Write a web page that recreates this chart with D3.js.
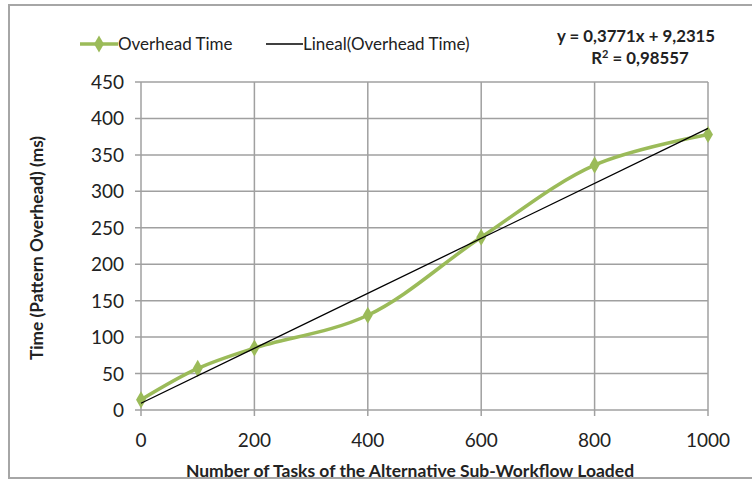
<!DOCTYPE html>
<html>
<head>
<meta charset="utf-8">
<script src="https://cdn.jsdelivr.net/npm/d3@7"></script>
<style>
  body { margin: 0; background: #fff; }
  text { font-family: Lato, "Liberation Sans", sans-serif; fill: #222; }
</style>
</head>
<body>
<svg id="chart" width="752" height="485"></svg>
<script>
// tasks loaded vs overhead time (ms)
var tasks = [0, 100, 200, 400, 600, 800, 1000];
var overhead = [14, 57, 85, 130, 237, 336, 378];
var xTicks = [0, 200, 400, 600, 800, 1000];
var yTicks = [0, 50, 100, 150, 200, 250, 300, 350, 400, 450];
// linear trend from the chart's own equation
var trendSlope = 0.3771;
var trendIntercept = 9.2315;
var trendR2 = "0,98557";

var svg = d3.select("#chart");
var green = "#9bbb59";

// chart frame
svg.append("rect")
    .attr("x", 9).attr("y", 5)
    .attr("width", 760).attr("height", 473)
    .attr("fill", "none")
    .attr("stroke", "#a6a6a6")
    .attr("stroke-width", 2);

var x = d3.scaleLinear().domain([0, 1000]).range([141, 708]);
var y = d3.scaleLinear().domain([0, 450]).range([410, 82]);

// grid
svg.append("g").selectAll("line.h").data(yTicks).enter().append("line")
    .attr("x1", 135).attr("x2", x(1000))
    .attr("y1", function(d) { return y(d); })
    .attr("y2", function(d) { return y(d); })
    .attr("stroke", "#a0a0a0").attr("stroke-width", 1.5);

svg.append("g").selectAll("line.v").data(xTicks).enter().append("line")
    .attr("x1", function(d) { return x(d); })
    .attr("x2", function(d) { return x(d); })
    .attr("y1", y(450)).attr("y2", y(0) + 6)
    .attr("stroke", "#a0a0a0").attr("stroke-width", 1.5);

// tick labels
svg.append("g").selectAll("text").data(yTicks).enter().append("text")
    .attr("x", 124)
    .attr("y", function(d) { return y(d) + 7; })
    .attr("text-anchor", "end")
    .style("font-size", "19px")
    .text(function(d) { return d; });

svg.append("g").selectAll("text").data(xTicks).enter().append("text")
    .attr("x", function(d) { return x(d); })
    .attr("y", 447)
    .attr("text-anchor", "middle")
    .style("font-size", "19px")
    .text(function(d) { return d; });

// axis titles
svg.append("text")
    .attr("x", 410).attr("y", 477)
    .attr("text-anchor", "middle")
    .style("font-size", "17.5px").style("font-weight", "bold")
    .text("Number of Tasks of the Alternative Sub-Workflow Loaded");

svg.append("text")
    .attr("transform", "translate(43,248) rotate(-90)")
    .attr("text-anchor", "middle")
    .style("font-size", "17.3px").style("font-weight", "bold")
    .text("Time (Pattern Overhead) (ms)");

// data line
var pts = tasks.map(function(t, i) { return [t, overhead[i]]; });
var line = d3.line()
    .x(function(d) { return x(d[0]); })
    .y(function(d) { return y(d[1]); })
    .curve(d3.curveCatmullRom.alpha(0.5));

svg.append("path")
    .datum(pts)
    .attr("d", line)
    .attr("fill", "none")
    .attr("stroke", green)
    .attr("stroke-width", 3.5)
    .attr("stroke-linejoin", "round");

var diamond = d3.symbol().type(d3.symbolDiamond).size(85);
svg.append("g").selectAll("path").data(pts).enter().append("path")
    .attr("d", diamond)
    .attr("transform", function(d) { return "translate(" + x(d[0]) + "," + y(d[1]) + ")"; })
    .attr("fill", green);

// trend line
svg.append("line")
    .attr("x1", x(0)).attr("y1", y(trendIntercept))
    .attr("x2", x(1000)).attr("y2", y(trendSlope * 1000 + trendIntercept))
    .attr("stroke", "#000").attr("stroke-width", 1.3);

// legend
var leg = svg.append("g");
leg.append("line")
    .attr("x1", 80).attr("x2", 118).attr("y1", 44).attr("y2", 44)
    .attr("stroke", green).attr("stroke-width", 3.5);
leg.append("path")
    .attr("d", diamond)
    .attr("transform", "translate(99,44)")
    .attr("fill", green);
leg.append("text")
    .attr("x", 118).attr("y", 50)
    .style("font-size", "17px")
    .text("Overhead Time");
leg.append("line")
    .attr("x1", 266).attr("x2", 303).attr("y1", 44).attr("y2", 44)
    .attr("stroke", "#000").attr("stroke-width", 1.3);
leg.append("text")
    .attr("x", 303).attr("y", 50)
    .style("font-size", "17px")
    .text("Lineal(Overhead Time)");

// equation label
var eq = svg.append("text")
    .attr("text-anchor", "middle")
    .style("font-size", "16.8px").style("font-weight", "bold");
eq.append("tspan").attr("x", 636).attr("y", 42)
    .text("y = " + String(trendSlope).replace(".", ",") + "x + " + String(trendIntercept).replace(".", ","));
var r2 = eq.append("tspan").attr("x", 640).attr("y", 64);
r2.append("tspan").text("R");
r2.append("tspan").attr("dy", -6).style("font-size", "11px").text("2");
r2.append("tspan").attr("dy", 6).text(" = " + trendR2);
</script>
</body>
</html>
